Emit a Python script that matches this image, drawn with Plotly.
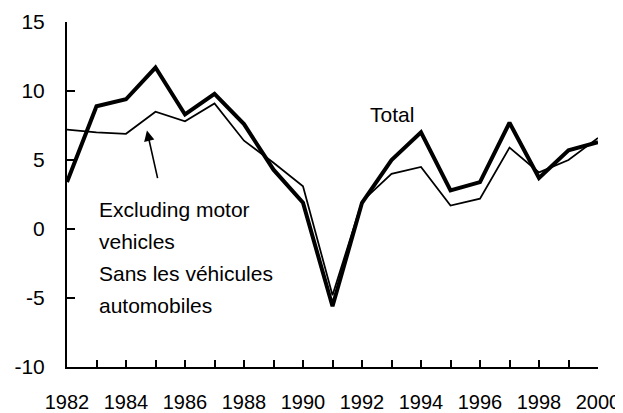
import plotly.graph_objs as go

years = list(range(1982, 2001))
total = [3.4, 8.9, 9.4, 11.7, 8.3, 9.8, 7.6, 4.3, 1.9, -5.6, 1.9, 5.0, 7.0, 2.8, 3.4, 7.7, 3.7, 5.7, 6.3]
excl_motor = [7.2, 7.0, 6.9, 8.5, 7.8, 9.1, 6.4, 4.8, 3.1, -4.8, 2.0, 4.0, 4.5, 1.7, 2.2, 5.9, 4.1, 5.0, 6.6]
year_labels = [str(y) if y % 2 == 0 else "" for y in years]
y_ticks = [-10, -5, 0, 5, 10, 15]
y_labels = ["-10", "-5", "0", "5", "10", "15"]
excl_text = ["Excluding motor", "vehicles", "Sans les véhicules", "automobiles"]
excl_text_y = [1.38, -0.92, -3.19, -5.52]

font = dict(family="Liberation Sans, Arial", size=21, color="black")
xfont = dict(family="Liberation Sans, Arial", size=20, color="black")

# page body adds an 8px offset, so the figure is a bit smaller than the window
fig = go.Figure(layout=dict(width=615, height=405))

fig.add_trace(go.Scatter(x=years, y=excl_motor, mode="lines",
                         line=dict(color="black", width=1.75), name="Excluding motor vehicles"))
fig.add_trace(go.Scatter(x=years, y=total, mode="lines",
                         line=dict(color="black", width=4), name="Total"))

# labels on the chart
fig.add_annotation(x=1993.0, y=8.27, text="Total", showarrow=False, font=font,
                   xanchor="center", yanchor="middle")
for txt, ty in zip(excl_text, excl_text_y):
    fig.add_annotation(x=1983.02, y=ty, text=txt, showarrow=False, font=font,
                       xanchor="left", yanchor="middle")

# arrow pointing to the thin line
fig.add_annotation(x=1984.71, y=7.13, ax=11, ay=49, text="", showarrow=True,
                   arrowhead=2, arrowsize=1.3, arrowwidth=1.6, arrowcolor="black")

fig.update_layout(
    plot_bgcolor="white",
    paper_bgcolor="white",
    showlegend=False,
    hovermode=False,
    font=font,
    margin=dict(l=59, r=25, t=14, b=46, autoexpand=False),
    xaxis=dict(range=[1982, 2000], tickvals=years, ticktext=year_labels,
               ticks="inside", ticklen=7, tickwidth=1.5, tickcolor="black",
               showline=True, linecolor="black", linewidth=2,
               showgrid=False, zeroline=False, ticklabelstandoff=16,
               tickfont=xfont, automargin=False),
    yaxis=dict(range=[-10, 15], tickvals=y_ticks, ticktext=y_labels,
               ticks="inside", ticklen=8, tickwidth=1.5, tickcolor="black",
               showline=True, linecolor="black", linewidth=2,
               showgrid=False, zeroline=False, ticklabelstandoff=16,
               tickfont=font, automargin=False),
)

fig.write_html("out.html")
